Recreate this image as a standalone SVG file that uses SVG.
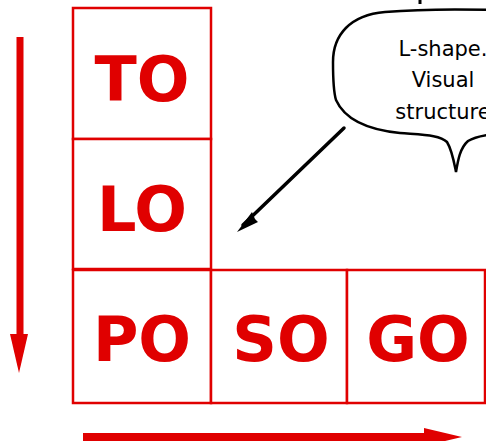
<svg xmlns="http://www.w3.org/2000/svg" width="486" height="441" viewBox="0 0 486 441">
<style>
.box{fill:#fff;stroke:#e00000;stroke-width:2.5}
.big{font-family:"Comic Sans MS","DejaVu Sans",sans-serif;font-weight:bold;font-size:62px;fill:#e00000;text-anchor:middle}
.small{font-family:"Comic Sans MS","DejaVu Sans",sans-serif;font-size:21px;fill:#000;text-anchor:middle}
</style>
<rect width="486" height="441" fill="#fff"/>
<g id="TO"><rect class="box" x="73" y="8" width="138" height="131"/><text class="big" x="142" y="101">TO</text></g>
<g id="LO"><rect class="box" x="73" y="139" width="138" height="130"/><text class="big" x="142" y="231">LO</text></g>
<g id="PO"><rect class="box" x="73" y="270" width="138" height="133"/><text class="big" x="142" y="361">PO</text></g>
<g id="SO"><rect class="box" x="211" y="270" width="136" height="133"/><text class="big" x="281" y="361">SO</text></g>
<g id="GO"><rect class="box" x="347" y="270" width="138" height="133"/><text class="big" x="418" y="361">GO</text></g>
<g id="callout">
<line x1="420" y1="0" x2="420" y2="4" stroke="#000" stroke-width="3"/>
<path d="M333 62 C333 35,350 15,385 12 C420 9,460 9,495 10 L495 134 C486 135,476 136,468 141 C460 148,458 160,456 172 C454 162,452 150,447 142 C440 135,425 135,400 133 C370 130,345 120,336 100 C333 90,333 75,333 62 Z" fill="#fff" stroke="#000" stroke-width="2.5"/>
<text class="small" x="443" y="56">L-shape.</text>
<text class="small" x="443" y="87">Visual</text>
<text class="small" x="443" y="119">structure</text>
</g>
<g id="connectors">
<line x1="20" y1="37" x2="20" y2="338" stroke="#e00000" stroke-width="7"/>
<polygon points="10,334 28,334 19,373" fill="#e00000"/>
<line x1="83" y1="437" x2="428" y2="437" stroke="#e00000" stroke-width="8"/>
<polygon points="424,428 424,446 462,437" fill="#e00000"/>
<line x1="344" y1="128" x2="243" y2="225" stroke="#000" stroke-width="3.5" stroke-linecap="round"/>
<polygon points="237,232 252,212 255,219 258,222" fill="#000"/>
</g>
</svg>
